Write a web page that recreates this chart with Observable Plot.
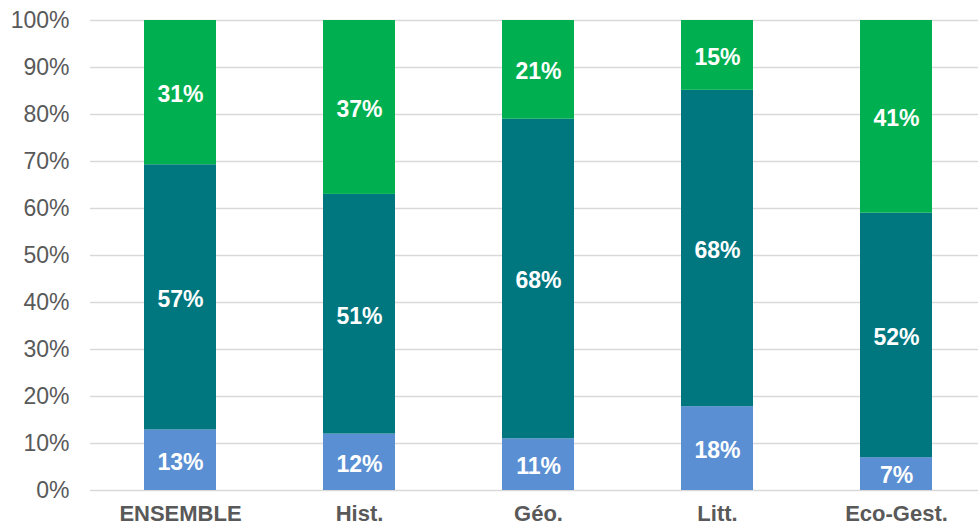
<!DOCTYPE html>
<html>
<head>
<meta charset="utf-8">
<script src="https://cdn.jsdelivr.net/npm/d3@7"></script>
<script src="https://cdn.jsdelivr.net/npm/@observablehq/plot@0.6"></script>
<style>
  html, body { margin: 0; padding: 0; background: #fff; }
  #chart { width: 978px; height: 528px; }
</style>
</head>
<body>
<div id="chart"></div>
<script>
const categories = ["ENSEMBLE", "Hist.", "Géo.", "Litt.", "Eco-Gest."];
const seriesNames = ["Série 1", "Série 2", "Série 3"];
const series1 = [13, 12, 11, 18, 7];
const series2 = [57, 51, 68, 68, 52];
const series3 = [31, 37, 21, 15, 41];
const seriesColors = ["#5B8FD3", "#00777F", "#00B050"];
const yTicks = [0, 0.1, 0.2, 0.3, 0.4, 0.5, 0.6, 0.7, 0.8, 0.9, 1];

const allSeries = [series1, series2, series3];
const rows = [];
categories.forEach((c, i) => {
  allSeries.forEach((s, j) => {
    rows.push({category: c, series: seriesNames[j], value: s[i], label: s[i] + "%"});
  });
});

const chart = Plot.plot({
  width: 978,
  height: 528,
  marginLeft: 90,
  marginRight: 0,
  marginTop: 20,
  marginBottom: 38,
  style: {fontFamily: "'Liberation Sans', Arial, sans-serif", background: "#fff"},
  x: {domain: categories, range: [90, 985], paddingInner: 0.6, paddingOuter: 0.3, label: null},
  y: {domain: [0, 1], label: null},
  color: {domain: seriesNames, range: seriesColors},
  marks: [
    Plot.ruleY(yTicks, {stroke: "#D9D9D9", strokeWidth: 1.5}),
    Plot.barY(rows, Plot.stackY({offset: "normalize", x: "category", y: "value", z: "series", fill: "series"})),
    Plot.text(rows, Plot.stackY({offset: "normalize", x: "category", y: "value", z: "series", text: "label",
      fill: "white", fontWeight: "bold", fontSize: 23, dy: 2})),
    Plot.axisY({ticks: yTicks, tickFormat: d3.format(".0%"), tickSize: 0, tickPadding: 21,
      fontSize: 23, fill: "#595959", label: null}),
    Plot.axisX({tickSize: 0, tickPadding: 15, fontSize: 22, fontWeight: "bold", fill: "#595959", label: null})
  ]
});
document.getElementById("chart").appendChild(chart);
</script>
</body>
</html>
